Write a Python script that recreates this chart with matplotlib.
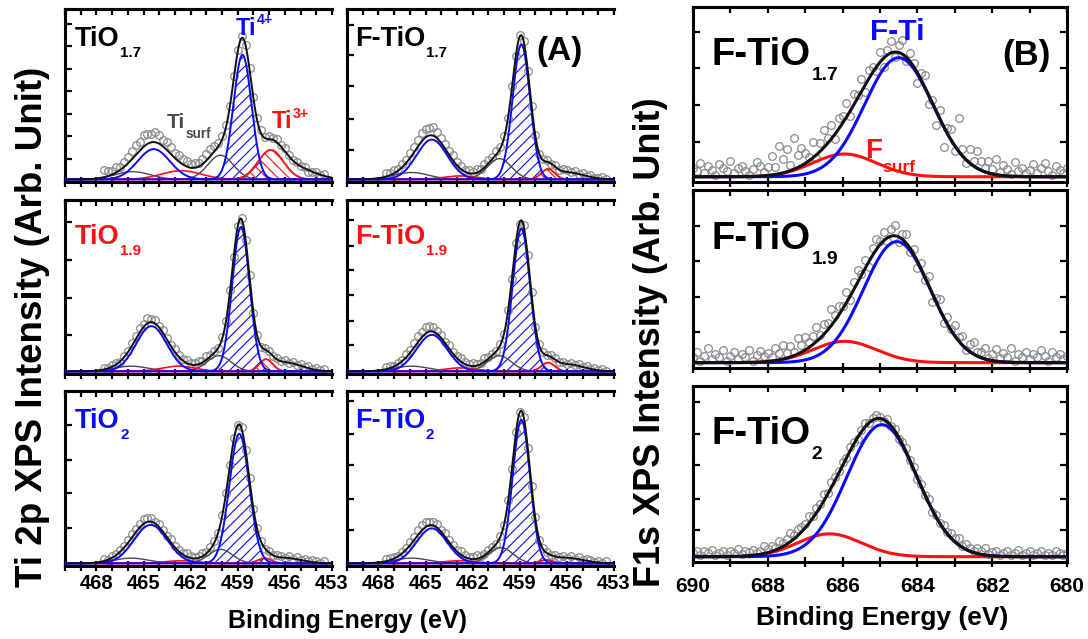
import numpy as np
import matplotlib
matplotlib.use("Agg")
import matplotlib.pyplot as plt
from matplotlib.ticker import MultipleLocator

plt.rcParams['font.family'] = ['Liberation Sans', 'DejaVu Sans']
plt.rcParams['font.weight'] = 'bold'
plt.rcParams['hatch.linewidth'] = 0.8

BLUE = '#0a0aff'
RED = '#ff1010'
GREY = '#4a4a4a'
DOTS = '#8a8a8a'

# ---------------- Ti 2p spectra ----------------
ti_names = ['TiO', 'F-TiO', 'TiO', 'F-TiO', 'TiO', 'F-TiO']
ti_subs = ['1.7', '1.7', '1.9', '1.9', '2', '2']
ti_label_colors = ['black', 'black', RED, RED, BLUE, BLUE]
ti_energy = np.linspace(467.5, 453.5, 57)

# fitted components: (centre eV, height, FWHM eV)
ti4_p32 = [(458.7, 0.72, 1.35), (458.9, 0.78, 1.30), (458.8, 0.83, 1.30),
           (458.9, 0.82, 1.30), (458.9, 0.74, 1.50), (458.9, 0.82, 1.30)]
ti4_p12 = [(464.35, 0.175, 2.4), (464.6, 0.23, 2.3), (464.5, 0.26, 2.3),
           (464.6, 0.21, 2.3), (464.55, 0.22, 2.5), (464.6, 0.20, 2.3)]
surf_p32 = [(460.1, 0.14, 1.9), (460.3, 0.12, 1.8), (460.2, 0.09, 1.8),
            (460.3, 0.09, 1.8), (460.1, 0.08, 1.8), (460.2, 0.09, 1.8)]
surf_p12 = [(465.7, 0.045, 2.6), (465.9, 0.04, 2.6), (465.8, 0.03, 2.6),
            (465.9, 0.03, 2.6), (465.8, 0.03, 2.6), (465.9, 0.03, 2.6)]
ti3_p32 = [(456.9, 0.17, 1.9), (457.2, 0.06, 1.0), (457.2, 0.07, 1.0),
           (457.2, 0.05, 1.0), (457.3, 0.03, 1.0), (457.3, 0.02, 1.0)]
ti3_p12 = [(462.6, 0.05, 3.0), (462.8, 0.02, 2.5), (462.8, 0.03, 2.5),
           (462.8, 0.02, 2.5), (462.6, 0.015, 2.5), (462.8, 0.015, 2.5)]
# background terms that only enter the envelope
ti_tails = [[(458.7, 0.05, 3.0), (455.5, 0.07, 3.0)],
            [(458.9, 0.03, 3.0), (456.0, 0.04, 2.5)],
            [(458.8, 0.03, 3.0), (456.0, 0.05, 2.5)],
            [(458.9, 0.03, 3.0), (456.0, 0.04, 2.5)],
            [(458.9, 0.03, 3.0), (456.0, 0.03, 2.5)],
            [(458.9, 0.03, 3.0), (456.0, 0.03, 2.5)]]

# measured minus fit
res_tio17 = [0.04, 0.03, 0.02, 0.03, 0.02, 0.03, 0.04, 0.05, 0.06, 0.05,
             0.07, 0.06, 0.05, 0.06, 0.05, 0.04, 0.05, 0.04, 0.03, 0.04,
             0.03, 0.03, 0.02, 0.03, 0.02, 0.03, 0.04, 0.04, 0.03, 0.02,
             0.02, 0.01, 0.00, 0.01, 0.01, 0.01, 0.00, 0.01, 0.01, 0.02,
             0.02, 0.01, 0.02, 0.01, 0.02, 0.01, 0.02, 0.01, 0.00, 0.01,
             0.00, 0.01, -0.01, 0.00, 0.01, 0.00, 0.01]
res_ftio17 = [0.02, 0.01, 0.02, 0.01, 0.02, 0.02, 0.03, 0.03, 0.04, 0.05,
              0.05, 0.04, 0.05, 0.04, 0.03, 0.03, 0.02, 0.03, 0.02, 0.02,
              0.01, 0.02, 0.01, 0.02, 0.01, 0.02, 0.02, 0.01, 0.02, 0.01,
              0.01, 0.00, 0.01, 0.00, 0.01, 0.00, -0.01, 0.00, 0.01, 0.00,
              0.01, 0.01, 0.00, 0.01, 0.00, 0.01, 0.01, 0.00, 0.01, 0.00,
              0.01, 0.00, 0.01, 0.00, 0.00, 0.01, 0.00]
res_tio19 = [0.01, 0.00, 0.01, 0.01, 0.00, 0.01, 0.01, 0.02, 0.02, 0.03,
             0.02, 0.03, 0.02, 0.02, 0.01, 0.02, 0.01, 0.01, 0.02, 0.01,
             0.01, 0.02, 0.01, 0.01, 0.02, 0.01, 0.02, 0.01, 0.01, 0.00,
             0.01, 0.00, 0.01, -0.01, 0.00, 0.01, 0.00, 0.01, 0.00, 0.01,
             0.00, 0.01, 0.01, 0.00, 0.01, 0.00, 0.01, 0.00, 0.01, 0.00,
             0.01, 0.00, 0.01, 0.00, 0.01, 0.00, 0.01]
res_ftio19 = [0.01, 0.01, 0.00, 0.01, 0.01, 0.02, 0.02, 0.03, 0.04, 0.03,
              0.04, 0.03, 0.03, 0.02, 0.02, 0.01, 0.02, 0.01, 0.01, 0.02,
              0.01, 0.01, 0.02, 0.01, 0.01, 0.02, 0.01, 0.01, 0.00, 0.01,
              0.00, 0.01, 0.00, 0.00, -0.01, 0.01, 0.00, 0.01, 0.00, 0.01,
              0.01, 0.00, 0.01, 0.01, 0.00, 0.01, 0.00, 0.01, 0.00, 0.01,
              0.00, 0.01, 0.00, 0.01, 0.00, 0.01, 0.00]
res_tio2 = [0.01, 0.00, 0.01, 0.01, 0.01, 0.01, 0.02, 0.02, 0.02, 0.02,
            0.03, 0.02, 0.02, 0.01, 0.02, 0.01, 0.01, 0.02, 0.01, 0.01,
            0.01, 0.02, 0.01, 0.01, 0.01, 0.02, 0.01, 0.01, 0.01, 0.00,
            0.01, 0.00, 0.00, 0.01, 0.00, 0.01, 0.00, 0.01, 0.00, 0.01,
            0.01, 0.00, 0.01, 0.00, 0.01, 0.01, 0.00, 0.01, 0.00, 0.01,
            0.00, 0.01, 0.00, 0.01, 0.01, 0.00, 0.01]
res_ftio2 = [0.01, 0.01, 0.01, 0.00, 0.01, 0.01, 0.02, 0.02, 0.03, 0.03,
             0.03, 0.02, 0.02, 0.02, 0.01, 0.02, 0.01, 0.01, 0.01, 0.02,
             0.01, 0.01, 0.01, 0.02, 0.01, 0.01, 0.01, 0.01, 0.00, 0.01,
             0.00, 0.01, 0.00, 0.01, 0.00, 0.00, -0.01, 0.00, 0.01, 0.00,
             0.01, 0.01, 0.00, 0.01, 0.00, 0.01, 0.00, 0.01, 0.00, 0.01,
             0.00, 0.01, 0.01, 0.00, 0.01, 0.00, 0.01]
ti_residuals = [res_tio17, res_ftio17, res_tio19, res_ftio19, res_tio2, res_ftio2]

# ---------------- F 1s spectra ----------------
f_names = ['F-TiO', 'F-TiO', 'F-TiO']
f_subs = ['1.7', '1.9', '2']
f_energy = np.linspace(690, 680, 101)
fti_peak = [(684.5, 0.68, 2.15), (684.55, 0.68, 2.1), (684.95, 0.75, 2.2)]
fsurf_peak = [(685.95, 0.13, 2.0), (685.95, 0.12, 2.0), (686.35, 0.13, 2.0)]

res_f17 = [0.05, 0.03, 0.08, 0.02, 0.06, 0.04, 0.01, 0.07, 0.05, 0.03,
           0.09, 0.02, 0.05, 0.06, 0.03, 0.01, 0.04, 0.08, 0.06, 0.02,
           0.05, 0.11, 0.04, 0.16, 0.08, 0.13, 0.03, 0.18, 0.07, 0.10,
           0.06, 0.02, 0.09, -0.02, 0.05, 0.10, 0.03, 0.08, -0.03, 0.06,
           0.04, 0.08, -0.03, 0.06, 0.02, 0.07, -0.04, 0.05, 0.03, -0.02,
           0.06, -0.05, 0.03, 0.07, -0.03, 0.04, 0.08, -0.02, 0.05, 0.02,
           -0.06, 0.04, 0.07, -0.05, 0.02, -0.08, 0.05, -0.12, 0.03, 0.06,
           -0.03, 0.19, 0.04, -0.02, 0.08, 0.03, 0.10, 0.05, 0.02, 0.07,
           0.03, 0.09, 0.02, 0.06, 0.04, 0.01, 0.08, 0.03, 0.05, 0.02,
           0.04, 0.07, 0.02, 0.05, 0.08, 0.03, 0.01, 0.06, 0.04, 0.02, 0.05]
res_f19 = [0.03, 0.06, 0.01, 0.04, 0.08, 0.02, 0.05, 0.03, 0.07, 0.01,
           0.04, 0.06, 0.02, 0.05, 0.03, 0.07, 0.01, 0.04, 0.06, 0.03,
           0.05, 0.02, 0.07, 0.04, 0.08, 0.03, 0.06, 0.02, 0.09, 0.04,
           0.07, 0.03, 0.05, 0.08, 0.02, 0.06, 0.04, 0.09, 0.03, 0.05,
           0.02, 0.06, -0.02, 0.04, 0.07, 0.01, 0.05, -0.03, 0.04, 0.06,
           0.02, 0.05, -0.02, 0.04, 0.06, -0.03, 0.03, 0.05, -0.02, 0.03,
           -0.04, 0.03, -0.02, 0.05, -0.05, 0.02, 0.06, -0.03, 0.04, 0.01,
           0.06, 0.02, 0.05, -0.01, 0.04, 0.07, 0.02, 0.03, 0.06, 0.01,
           0.04, 0.07, 0.02, 0.05, 0.03, 0.08, 0.01, 0.05, 0.03, 0.06,
           0.02, 0.05, 0.03, 0.07, 0.04, 0.01, 0.06, 0.03, 0.05, 0.02, 0.04]
res_f2 = [0.02, 0.03, 0.01, 0.03, 0.02, 0.04, 0.01, 0.02, 0.03, 0.01,
          0.03, 0.02, 0.04, 0.01, 0.03, 0.02, 0.03, 0.01, 0.02, 0.04,
          0.02, 0.03, 0.01, 0.04, 0.02, 0.03, 0.05, 0.02, 0.04, 0.03,
          0.02, 0.04, 0.01, 0.03, 0.02, 0.04, 0.01, 0.03, 0.02, 0.01,
          0.02, 0.00, 0.02, 0.01, -0.01, 0.01, 0.02, 0.00, 0.01, 0.02,
          0.01, -0.01, 0.02, 0.00, 0.01, -0.01, 0.01, 0.02, 0.00, 0.01,
          -0.01, 0.01, 0.00, 0.02, -0.01, 0.01, 0.00, 0.02, 0.01, 0.03,
          0.02, 0.04, 0.01, 0.03, 0.02, 0.01, 0.03, 0.02, 0.04, 0.01,
          0.02, 0.03, 0.01, 0.02, 0.03, 0.01, 0.02, 0.04, 0.01, 0.02,
          0.03, 0.01, 0.02, 0.03, 0.01, 0.02, 0.01, 0.03, 0.02, 0.01, 0.02]
f_residuals = [res_f17, res_f19, res_f2]


def gauss(x, c, h, w):
    return h * np.exp(-4 * np.log(2) * (x - c) ** 2 / w ** 2)


def chem(ax, x, y, main, script, size, color, shift, ratio=0.56):
    # main text plus a sub/superscript placed right after it
    t = ax.text(x, y, main, transform=ax.transAxes, fontsize=size, color=color,
                ha='left', va='baseline')
    ax.annotate(script, xy=(1, 0), xycoords=t,
                xytext=(0.5, (0.21 + shift) * size), textcoords='offset points',
                fontsize=size * ratio, color=color, ha='left', va='baseline')
    return t


def frame(ax, xlim, major, minor, yticks, ylim, right, labels, lsize, pad):
    ax.set_xlim(*xlim)
    ax.set_ylim(*ylim)
    ax.xaxis.set_major_locator(MultipleLocator(major))
    ax.xaxis.set_minor_locator(MultipleLocator(minor))
    ax.set_yticks(yticks)
    ax.tick_params(axis='x', which='both', direction='inout', length=7, width=1.6,
                   labelsize=lsize, pad=pad, labelbottom=labels)
    ax.tick_params(axis='y', which='both', direction='in', length=5, width=1.6,
                   labelleft=False, right=right)
    top = ax.secondary_xaxis('top')
    top.xaxis.set_major_locator(MultipleLocator(major))
    top.xaxis.set_minor_locator(MultipleLocator(minor))
    top.tick_params(which='both', direction='in', length=4, width=1.6, labeltop=False)
    top.spines['top'].set_linewidth(2.2)
    for s in ax.spines.values():
        s.set_linewidth(2.2)
    if not right:
        ax.spines['right'].set_visible(False)


fig = plt.figure(figsize=(10.88, 6.39), dpi=100)
W, H = 1088.0, 639.0

ti_cols = [(65, 332), (347, 614)]
ti_rows = [(9, 182), (200, 374), (391, 566)]
ti_yticks = [[0.12, 0.25, 0.38, 0.51, 0.64, 0.77, 0.90],
             [0.17, 0.35, 0.54, 0.72, 0.89],
             [0.21, 0.42, 0.64, 0.86],
             [0.15, 0.29, 0.44, 0.58, 0.72, 0.87],
             [0.20, 0.40, 0.59, 0.79],
             [0.19, 0.37, 0.56, 0.74, 0.93]]

xf = np.linspace(470, 453, 800)
for k in range(6):
    r, c = divmod(k, 2)
    x0, x1 = ti_cols[c]
    y0, y1 = ti_rows[r]
    ax = fig.add_axes([x0 / W, 1 - y1 / H, (x1 - x0) / W, (y1 - y0) / H])

    parts = [ti4_p32[k], ti4_p12[k], surf_p32[k], surf_p12[k], ti3_p32[k], ti3_p12[k]]
    env = sum(gauss(xf, *p) for p in parts + ti_tails[k])
    meas = sum(gauss(ti_energy, *p) for p in parts + ti_tails[k]) + np.array(ti_residuals[k])

    a4 = gauss(xf, *ti4_p32[k])
    a3 = gauss(xf, *ti3_p32[k])
    ax.fill_between(xf, 0, a4, facecolor='none', edgecolor=BLUE, hatch='///', lw=0, zorder=1)
    ax.fill_between(xf, 0, a3, facecolor='none', edgecolor=RED, hatch='\\\\\\', lw=0, zorder=1)
    ax.plot(ti_energy, meas, 'o', mfc='none', mec=DOTS, ms=5.5, mew=0.9, zorder=2)
    ax.plot(xf, gauss(xf, *surf_p32[k]), color=GREY, lw=1.0, zorder=3)
    ax.plot(xf, gauss(xf, *surf_p12[k]), color=GREY, lw=1.0, zorder=3)
    ax.plot(xf, gauss(xf, *ti3_p12[k]), color=RED, lw=1.2, zorder=3)
    ax.plot(xf, a3, color=RED, lw=1.4, zorder=3)
    ax.plot(xf, gauss(xf, *ti4_p12[k]), color=BLUE, lw=1.4, zorder=4)
    ax.plot(xf, a4, color=BLUE, lw=1.4, zorder=4)
    ax.plot(xf, env, color='#111111', lw=1.4, zorder=5)

    frame(ax, (470, 453), 3, 1, ti_yticks[k], (-0.015, 0.985), False, r == 2, 14.5, 2)

    lx = 0.037 if c == 0 else 0.03
    ly = [0.786, 0.75, 0.79][r]
    chem(ax, lx, ly, ti_names[k], ti_subs[k], 19.5, ti_label_colors[k], -0.41, 0.56)

    if k == 0:
        chem(ax, 0.64, 0.85, 'Ti', '4+', 17, BLUE, 0.47, 0.6)
        chem(ax, 0.38, 0.31, 'Ti', 'surf', 15, GREY, -0.5, 0.65)
        chem(ax, 0.775, 0.31, 'Ti', '3+', 17, RED, 0.46, 0.6)
    if k == 1:
        ax.text(0.71, 0.705, '(A)', transform=ax.transAxes, fontsize=24,
                ha='left', va='baseline')

# F 1s column
f_rows = [(7, 182), (190, 368), (386, 562)]
f_yticks = [[0.20, 0.41, 0.62, 0.83],
            [0.17, 0.37, 0.57, 0.77],
            [0.15, 0.33, 0.52, 0.70, 0.88]]
xg = np.linspace(690, 680, 800)
for k in range(3):
    y0, y1 = f_rows[k]
    ax = fig.add_axes([693 / W, 1 - y1 / H, 374 / W, (y1 - y0) / H])
    a_ti = gauss(xg, *fti_peak[k])
    a_s = gauss(xg, *fsurf_peak[k])
    meas = gauss(f_energy, *fti_peak[k]) + gauss(f_energy, *fsurf_peak[k]) + np.array(f_residuals[k])
    ax.plot(f_energy, meas, 'o', mfc='none', mec=DOTS, ms=5.5, mew=0.9, zorder=2)
    ax.plot(xg, a_s, color=RED, lw=2.2, zorder=3)
    ax.plot(xg, a_ti, color=BLUE, lw=2.2, zorder=4)
    ax.plot(xg, a_ti + a_s, color='#111111', lw=2.2, zorder=5)

    frame(ax, (690, 680), 2, 1, f_yticks[k], (-0.03, 0.97), True, k == 2, 15, 7)
    chem(ax, 0.05, 0.70 - 0.03, f_names[k], f_subs[k], 27.5, 'black', -0.39, 0.5)
    if k == 0:
        ax.text(0.473, 0.81, 'F-Ti', transform=ax.transAxes, fontsize=21.5,
                color=BLUE, ha='left', va='baseline')
        chem(ax, 0.46, 0.136, 'F', 'surf', 20, RED, -0.5, 0.63)
        ax.text(0.826, 0.67, '(B)', transform=ax.transAxes, fontsize=25,
                ha='left', va='baseline')

fig.text(33 / W, 1 - 327 / H, 'Ti 2p XPS Intensity (Arb. Unit)', rotation=90,
         fontsize=26.5, ha='center', va='center')
fig.text(651 / W, 1 - 342 / H, 'F1s XPS Intensity (Arb. Unit)', rotation=90,
         fontsize=26, ha='center', va='center')
fig.text(347 / W, 1 - 628 / H, 'Binding Energy (eV)', fontsize=18,
         ha='center', va='baseline')
fig.text(882 / W, 1 - 625 / H, 'Binding Energy (eV)', fontsize=19,
         ha='center', va='baseline')

fig.savefig('out.png', dpi=100, facecolor='white')
